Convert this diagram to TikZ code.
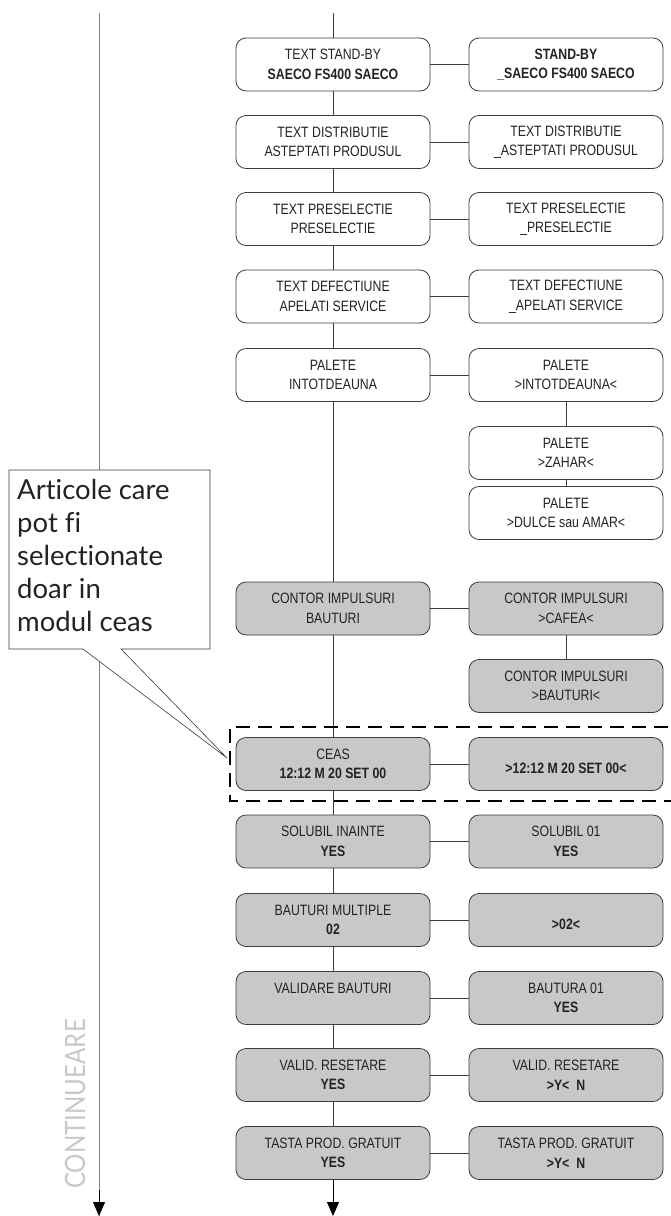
\documentclass[tikz,border=0pt]{standalone}
\usepackage{fontspec}
\setmainfont{Liberation Sans}
\newfontfamily\boxfont[FakeStretch=0.82]{Liberation Sans}
\newfontfamily\notefont[Ligatures=NoCommon]{Lato}
\usetikzlibrary{arrows.meta}
\definecolor{boxgray}{RGB}{200,200,200}
\definecolor{linegray}{RGB}{60,60,60}
\definecolor{leftgray}{RGB}{130,130,130}
\definecolor{palegray}{RGB}{200,200,200}
\definecolor{txtgray}{RGB}{35,35,35}
\tikzset{
  menu/.style={draw=linegray, fill=white, rounded corners=10pt, minimum width=194pt,
    minimum height=53pt, inner sep=0pt, align=center, line width=0.8pt,
    text=txtgray, font=\boxfont\fontsize{15}{19.5}\selectfont},
  grmenu/.style={menu, fill=boxgray},
  wire/.style={draw=linegray, line width=0.8pt},
  tip/.style={-{Triangle[length=14pt,width=12pt]}}
}
\begin{document}
\begin{tikzpicture}[x=1pt, y=-1pt]
  \useasboundingbox (0,0) rectangle (671,1216);
  \coordinate (top) at (333,13);
  \coordinate (mend) at (333,1216);
  \coordinate (ltop) at (99,13);
  \coordinate (lend) at (99,1216);
  \coordinate (tipnote) at (227,758);

  % left column
  \node[menu] (m1) at (333,64.5) {TEXT STAND-BY\\\textbf{SAECO FS400 SAECO}};
  \node[menu] (m2) at (333,142) {TEXT DISTRIBUTIE\\ASTEPTATI PRODUSUL};
  \node[menu] (m3) at (333,219) {TEXT PRESELECTIE\\PRESELECTIE};
  \node[menu] (m4) at (333,296.5) {TEXT DEFECTIUNE\\APELATI SERVICE};
  \node[menu] (m5) at (333,375) {PALETE\\INTOTDEAUNA};
  \node[grmenu] (m6) at (333,608.5) {CONTOR IMPULSURI\\BAUTURI};
  \node[grmenu] (m7) at (333,764) {CEAS\\\textbf{12:12 M 20 SET 00}};
  \node[grmenu] (m8) at (333,841.5) {SOLUBIL INAINTE\\\textbf{YES}};
  \node[grmenu] (m9) at (333,920) {BAUTURI MULTIPLE\\\textbf{02}};
  \node[grmenu] (m10) at (333,998) {VALIDARE BAUTURI\\\mbox{}};
  \node[grmenu] (m11) at (333,1075) {VALID. RESETARE\\\textbf{YES}};
  \node[grmenu] (m12) at (333,1153) {TASTA PROD. GRATUIT\\\textbf{YES}};

  % right column
  \node[menu] (v1) at (566,64.5) {\textbf{STAND-BY}\\\textbf{\_SAECO FS400 SAECO}};
  \node[menu] (v2) at (566,142) {TEXT DISTRIBUTIE\\\_ASTEPTATI PRODUSUL};
  \node[menu] (v3) at (566,219) {TEXT PRESELECTIE\\\_PRESELECTIE};
  \node[menu] (v4) at (566,296.5) {TEXT DEFECTIUNE\\\_APELATI SERVICE};
  \node[menu] (v5) at (566,375) {PALETE\\>INTOTDEAUNA<};
  \node[menu] (v5b) at (566,453) {PALETE\\>ZAHAR<};
  \node[menu] (v5c) at (566,513) {PALETE\\>DULCE sau AMAR<};
  \node[grmenu] (v6) at (566,608.5) {CONTOR IMPULSURI\\>CAFEA<};
  \node[grmenu] (v6b) at (566,686) {CONTOR IMPULSURI\\>BAUTURI<};
  \node[grmenu] (v7) at (566,764) {\mbox{}\\\textbf{>12:12 M 20 SET 00<}};
  \node[grmenu] (v8) at (566,841.5) {SOLUBIL 01\\\textbf{YES}};
  \node[grmenu] (v9) at (566,920) {\mbox{}\\\textbf{>02<}};
  \node[grmenu] (v10) at (566,998) {BAUTURA 01\\\textbf{YES}};
  \node[grmenu] (v11) at (566,1075) {VALID. RESETARE\\\textbf{>Y<\ \ N}};
  \node[grmenu] (v12) at (566,1153) {TASTA PROD. GRATUIT\\\textbf{>Y<\ \ N}};

  % connectors
  \draw[wire] (top) -- (m1);
  \foreach \a/\b in {1/2,2/3,3/4,4/5,5/6,6/7,7/8,8/9,9/10,10/11,11/12}
    \draw[wire] (m\a) -- (m\b);
  \draw[wire, tip, black] (m12) -- (mend);
  \foreach \i in {1,...,12}
    \draw[wire] (m\i) -- (v\i);
  \draw[wire] (v5) -- (v5b);
  \draw[wire] (v5b) -- (v5c);
  \draw[wire] (v6) -- (v6b);

  \draw[black, line width=1.5pt, dash pattern=on 14pt off 8pt]
    (690,727) -- (230,727) -- (230,801) -- (690,801);

  % left line and note
  \draw[leftgray, line width=0.9pt] (ltop) -- (lend);
  \draw[black, tip] (99,1190) -- (lend);
  \draw[draw=linegray, fill=white, line width=0.6pt] (9,470) -- (210,470) -- (210,649)
    -- (121,649) -- (tipnote) -- (83,649) -- (9,649) -- cycle;
  \node[anchor=north west, align=left, text=txtgray, inner sep=0pt,
    font=\notefont\fontsize{27.5}{33}\selectfont] (note) at (17,479)
    {Articole care\\pot fi\\selectionate\\doar in\\modul ceas};
  \node[rotate=90, text=palegray, font=\notefont\fontsize{28}{28}\selectfont] (cont)
    at (75,1104) {\scalebox{0.86}[1]{CONTINUEARE}};
\end{tikzpicture}
\end{document}
